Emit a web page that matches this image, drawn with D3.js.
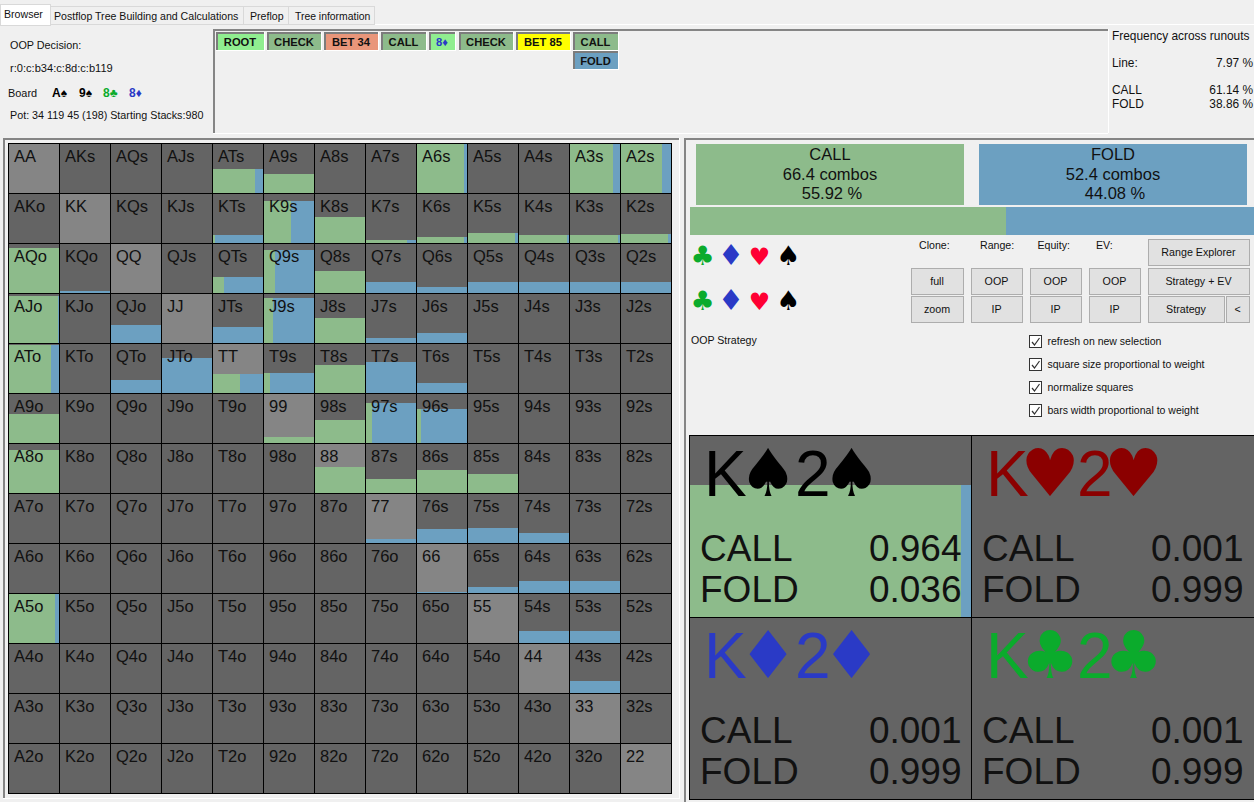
<!DOCTYPE html>
<html>
<head>
<meta charset="utf-8">
<title>OOP Strategy</title>
<script src="https://cdn.jsdelivr.net/npm/d3@7"></script>
<style>
  html, body { margin: 0; padding: 0; background: #f0f0f0; overflow: hidden; }
  svg { display: block; font-family: "Liberation Sans", Arial, sans-serif; }
  text { fill: #111; }
</style>
</head>
<body>
<svg id="chart" width="1254" height="802"></svg>
<script>
// hand grid: share of the cell filled by the bar, and CALL share of that bar
const ranks = ["A", "K", "Q", "J", "T", "9", "8", "7", "6", "5", "4", "3", "2"];
const weights = [
  [0, 0, 0, 0, .49, .39, 0, 0, 1, 0, 0, 1, 1],
  [0, 0, 0, 0, .165, .85, .52, .065, .125, .205, .165, .165, .185],
  [.9, .045, 0, 0, .33, .87, .45, .225, .125, .225, .225, .225, .225],
  [.95, 0, .365, 0, .325, .91, .505, .105, .205, 0, 0, 0, 0],
  [.97, 0, .265, .71, .385, .405, .565, .625, .205, 0, 0, 0, 0],
  [.585, 0, 0, 0, 0, .125, .465, .805, .685, 0, 0, 0, 0],
  [.87, 0, 0, 0, 0, 0, .53, .29, .47, .39, 0, 0, 0],
  [0, 0, 0, 0, 0, 0, 0, .09, .29, .31, .21, 0, 0],
  [0, 0, 0, 0, 0, 0, 0, 0, .03, .13, .25, .25, 0],
  [1, 0, 0, 0, 0, 0, 0, 0, 0, 0, .25, .25, 0],
  [0, 0, 0, 0, 0, 0, 0, 0, 0, 0, 0, .25, 0],
  [0, 0, 0, 0, 0, 0, 0, 0, 0, 0, 0, 0, 0],
  [0, 0, 0, 0, 0, 0, 0, 0, 0, 0, 0, 0, 0]
];
const callShare = [
  [0, 0, 0, 0, .85, 1, 0, 0, .95, 0, 0, .87, .83],
  [0, 0, 0, 0, .065, .54, 1, .83, .95, .95, .97, .97, .95],
  [1, 0, 0, 0, .24, .24, 1, 0, 0, 0, .02, .02, .02],
  [.98, 0, 0, 0, 0, .2, 1, 0, 0, 0, 0, 0, 0],
  [.85, 0, 0, 0, .54, .14, 1, 0, 0, 0, 0, 0, 0],
  [1, 0, 0, 0, 0, 1, 1, .14, .1, 0, 0, 0, 0],
  [1, 0, 0, 0, 0, 0, 1, 1, 1, 1, 0, 0, 0],
  [0, 0, 0, 0, 0, 0, 0, 0, 0, 0, 0, 0, 0],
  [0, 0, 0, 0, 0, 0, 0, 0, 0, 0, 0, 0, 0],
  [.93, 0, 0, 0, 0, 0, 0, 0, 0, 0, 0, 0, 0],
  [0, 0, 0, 0, 0, 0, 0, 0, 0, 0, 0, 0, 0],
  [0, 0, 0, 0, 0, 0, 0, 0, 0, 0, 0, 0, 0],
  [0, 0, 0, 0, 0, 0, 0, 0, 0, 0, 0, 0, 0]
];

// selected combo panel
const comboLabels = ["K♠2♠", "K♥2♥", "K♦2♦", "K♣2♣"];
const comboWeights = [.725, 0, 0, 0];
const comboCall = [.964, .001, .001, .001];
const comboFold = [.036, .999, .999, .999];

// overall action split
const actions = ["CALL", "FOLD"];
const actionCombos = [66.4, 52.4];
const actionPercent = [55.92, 44.08];

// decision line and texts
const nodeLabels = ["ROOT", "CHECK", "BET 34", "CALL", "8♦", "CHECK", "BET 85", "CALL", "FOLD"];
const tabLabels = ["Browser", "Postflop Tree Building and Calculations", "Preflop", "Tree information"];
const runoutActions = ["CALL", "FOLD"];
const runoutPercent = ["61.14 %", "38.86 %"];
const checkLabels = ["refresh on new selection", "square size proportional to weight", "normalize squares", "bars width proportional to weight"];
const suits = ["♣", "♦", "♥", "♠"];

// colours and layout
const green = "#8dbb8b";
const blue = "#6ca0c1";
const cellGrey = "#646464";
const pairGrey = "#858585";
const frameGrey = "#858585";
const suitColor = { "♠": "#000", "♥": "#8b0000", "♦": "#2a3ac6", "♣": "#0bab2c" };
const nodeFill = ["#90ee90", green, "#e9967a", green, "#90ee90", green, "#ffff00", green, blue];
const nodeBox = [[216, 32, 48], [267, 32, 54], [324, 32, 54], [381, 32, 45], [429, 32, 26], [459, 32, 54], [516, 32, 54], [573, 32, 45], [573, 51, 45]];

const svg = d3.select("#chart");

function label(x, y, str, size = 11, anchor = "start") {
  return svg.append("text").attr("x", x).attr("y", y)
    .attr("font-size", size + "px").attr("text-anchor", anchor).text(str);
}

function bar(x, y, w, h, color) {
  return svg.append("rect").attr("x", x).attr("y", y).attr("width", w).attr("height", h)
    .attr("fill", color).attr("shape-rendering", "crispEdges");
}

// window chrome
bar(0, 0, 1254, 802, "#f0f0f0");
bar(0, 24, 1254, 1, "#fff");

const tabX = [0, 50, 243, 288, 374];
const tabTextX = [4, 54, 250, 295];
tabLabels.forEach((t, i) => {
  svg.append("rect").attr("x", tabX[i] + .5).attr("y", i ? 6.5 : 4.5)
    .attr("width", tabX[i + 1] - tabX[i]).attr("height", i ? 18 : 21)
    .attr("fill", i ? "#f0f0f0" : "#fff").attr("stroke", "#d9d9d9")
    .attr("shape-rendering", "crispEdges");
  label(tabTextX[i], i ? 20 : 18, t, i === 3 ? 10.4 : 10.6);
});

// decision text
label(10, 49, "OOP Decision:", 10.8);
label(10, 72, "r:0:c:b34:c:8d:c:b119", 11.1);
label(8, 97, "Board", 10.9);
[["A♠", 52, "#000"], ["9♠", 79, "#000"], ["8♣", 103, suitColor["♣"]], ["8♦", 129, suitColor["♦"]]].forEach(c => {
  label(c[1], 97, c[0], 12).style("fill", c[2]).attr("font-weight", "bold");
});
label(10, 119, "Pot: 34 119 45 (198) Starting Stacks:980", 10.75);

// node panel
bar(213, 29, 2, 104, frameGrey);
bar(213, 29, 895, 2, frameGrey);
bar(1108, 29, 1, 104, "#fff");
bar(213, 133, 895, 1, "#fff");
svg.selectAll(".node").data(nodeLabels).enter().append("rect")
  .attr("class", "node")
  .attr("x", (_, i) => nodeBox[i][0]).attr("y", (_, i) => nodeBox[i][1])
  .attr("width", (_, i) => nodeBox[i][2]).attr("height", 18)
  .attr("fill", (_, i) => nodeFill[i])
  .attr("shape-rendering", "crispEdges");
nodeLabels.forEach((_, i) => {
  const [x, y, w] = nodeBox[i];
  bar(x, y, w, 2, "#7c7c7c");
  bar(x, y, 2, 18, "#7c7c7c");
  bar(x, y + 18, w + 1, 1, "#fff");
  bar(x + w, y, 1, 19, "#fff");
});
svg.selectAll(".nodeText").data(nodeLabels).enter().append("text")
  .attr("class", "nodeText")
  .attr("x", (_, i) => nodeBox[i][0] + nodeBox[i][2] / 2)
  .attr("y", (_, i) => nodeBox[i][1] + 13.5)
  .attr("text-anchor", "middle").attr("font-size", "11.2px").attr("font-weight", "bold")
  .style("fill", d => d === "8♦" ? suitColor["♦"] : "#111")
  .text(d => d);

// runout frequencies
label(1112, 40, "Frequency across runouts", 11.9);
label(1112, 67, "Line:", 11.9);
label(1253, 67, "7.97 %", 11.9, "end");
runoutActions.forEach((a, i) => {
  label(1112, 94 + i * 14, a, 11.9);
  label(1253, 94 + i * 14, runoutPercent[i], 11.9, "end");
});

// frames round the two lower panels
bar(3, 138, 676, 2, frameGrey);
bar(3, 138, 2, 660, frameGrey);
bar(679, 138, 1, 660, "#fff");
bar(3, 798, 677, 1, "#fff");
bar(684, 138, 570, 2, frameGrey);
bar(684, 138, 2, 664, frameGrey);

// hand grid
const gridX = d3.scaleBand().domain(ranks).range([8, 671]);
const gridY = d3.scaleBand().domain(ranks).range([143, 793]);
const barH = d3.scaleLinear().domain([0, 1]).range([0, gridY.bandwidth()]);
const barW = d3.scaleLinear().domain([0, 1]).range([0, gridX.bandwidth()]);

const cells = ranks.flatMap((r, i) => ranks.map((c, j) => ({
  row: r,
  col: c,
  pair: i === j,
  name: i === j ? r + c : i < j ? r + c + "s" : c + r + "o",
  weight: weights[i][j],
  call: callShare[i][j]
})));

const cellG = svg.append("g").attr("shape-rendering", "crispEdges");
cellG.selectAll(".cell").data(cells).enter().append("rect")
  .attr("class", "cell")
  .attr("x", d => gridX(d.col)).attr("y", d => gridY(d.row))
  .attr("width", gridX.bandwidth()).attr("height", gridY.bandwidth())
  .attr("fill", d => d.pair ? pairGrey : cellGrey);
cellG.selectAll(".fold").data(cells.filter(d => d.weight > 0)).enter().append("rect")
  .attr("class", "fold")
  .attr("x", d => gridX(d.col) + barW(d.call))
  .attr("y", d => gridY(d.row) + gridY.bandwidth() - barH(d.weight))
  .attr("width", d => barW(1 - d.call))
  .attr("height", d => barH(d.weight))
  .attr("fill", blue);
cellG.selectAll(".call").data(cells.filter(d => d.weight > 0)).enter().append("rect")
  .attr("class", "call")
  .attr("x", d => gridX(d.col))
  .attr("y", d => gridY(d.row) + gridY.bandwidth() - barH(d.weight))
  .attr("width", d => barW(d.call))
  .attr("height", d => barH(d.weight))
  .attr("fill", green);
cellG.selectAll(".border").data(cells).enter().append("rect")
  .attr("class", "border")
  .attr("x", d => gridX(d.col) + .5).attr("y", d => gridY(d.row) + .5)
  .attr("width", gridX.bandwidth()).attr("height", gridY.bandwidth())
  .attr("fill", "none").attr("stroke", "#000");
svg.selectAll(".cellText").data(cells).enter().append("text")
  .attr("class", "cellText")
  .attr("x", d => gridX(d.col) + 6).attr("y", d => gridY(d.row) + 18.5)
  .attr("font-size", "16.5px")
  .text(d => d.name);

// action boxes
const actionX = d3.scaleBand().domain(actions).range([696, 1247]).paddingInner(.053);
actions.forEach((a, i) => {
  bar(actionX(a), 144, actionX.bandwidth(), 61, i ? blue : green);
  const cx = actionX(a) + actionX.bandwidth() / 2;
  label(cx, 160, a, 16.5, "middle");
  label(cx, 180, actionCombos[i] + " combos", 16.5, "middle");
  label(cx + 2, 199, actionPercent[i].toFixed(2) + " %", 16.5, "middle");
});

// split bar
const splitX = d3.scaleLinear().domain([0, 100]).range([689.5, 1256]);
svg.selectAll(".split").data(actionPercent).enter().append("rect")
  .attr("class", "split")
  .attr("x", (d, i) => splitX(d3.sum(actionPercent.slice(0, i))))
  .attr("y", 207)
  .attr("width", d => splitX(d) - splitX(0))
  .attr("height", 28)
  .attr("fill", (_, i) => i ? blue : green)
  .attr("shape-rendering", "crispEdges");

// suit pickers
const suitRowColor = { "♣": "#0bab2c", "♦": "#2a3ac6", "♥": "#ff0033", "♠": "#000" };
const suitRowSize = { "♣": 27, "♦": 29, "♥": 24, "♠": 27 };
[265, 310].forEach(y => {
  suits.forEach((s, i) => {
    label(702.5 + i * 28.5, y, s, suitRowSize[s], "middle").style("fill", suitRowColor[s])
      .style("font-family", "'DejaVu Sans'");
  });
});

// controls
[["Clone:", 919], ["Range:", 980], ["Equity:", 1037.5], ["EV:", 1096]].forEach(c => label(c[1], 249, c[0], 10.6));
label(691, 344, "OOP Strategy", 10.6);

const buttons = [
  ["full", 911, 268, 52, 26], ["zoom", 911, 296, 52, 26],
  ["OOP", 971, 268, 51, 26], ["IP", 971, 296, 51, 26],
  ["OOP", 1030, 268, 51, 26], ["IP", 1030, 296, 51, 26],
  ["OOP", 1089, 268, 51, 26], ["IP", 1089, 296, 51, 26],
  ["Range Explorer", 1148, 239, 101, 26], ["Strategy + EV", 1148, 268, 101, 26],
  ["Strategy", 1148, 296, 76, 26], ["<", 1226, 296, 23, 26]
];
buttons.forEach(b => {
  svg.append("rect").attr("x", b[1] + .5).attr("y", b[2] + .5).attr("width", b[3]).attr("height", b[4])
    .attr("fill", "#e1e1e1").attr("stroke", "#adadad").attr("shape-rendering", "crispEdges");
  label(b[1] + b[3] / 2, b[2] + 17, b[0], 10.7, "middle");
});

checkLabels.forEach((t, i) => {
  const y = 335 + i * 23;
  svg.append("rect").attr("x", 1029.5).attr("y", y + .5).attr("width", 12).attr("height", 12)
    .attr("fill", "#fff").attr("stroke", "#333").attr("shape-rendering", "crispEdges");
  svg.append("path").attr("d", `M1032 ${y + 7}l2.5 3l5-7`).attr("fill", "none").attr("stroke", "#333").attr("stroke-width", 1.2);
  label(1047.5, y + 10, t, 10.5);
});

// combo panel
const comboX = d3.scaleBand().domain([0, 1]).range([689, 1253]);
const comboY = d3.scaleBand().domain([0, 1]).range([435, 799]);
const comboH = d3.scaleLinear().domain([0, 1]).range([0, comboY.bandwidth()]);
const comboW = d3.scaleLinear().domain([0, 1]).range([0, comboX.bandwidth()]);
// panel order on screen: spades, hearts / diamonds, clubs
comboLabels.forEach((name, i) => {
  const x = comboX(i % 2), y = comboY(i < 2 ? 0 : 1);
  const g = svg.append("g").attr("shape-rendering", "crispEdges");
  g.append("rect").attr("x", x).attr("y", y).attr("width", comboX.bandwidth() + 1).attr("height", comboY.bandwidth())
    .attr("fill", cellGrey);
  if (comboWeights[i] > 0) {
    const h = comboH(comboWeights[i]);
    g.append("rect").attr("x", x).attr("y", y + comboY.bandwidth() - h).attr("width", comboW(1)).attr("height", h).attr("fill", blue);
    g.append("rect").attr("x", x).attr("y", y + comboY.bandwidth() - h).attr("width", comboW(comboCall[i])).attr("height", h).attr("fill", green);
  }
  g.append("rect").attr("x", x + .5).attr("y", y + .5).attr("width", comboX.bandwidth()).attr("height", comboY.bandwidth())
    .attr("fill", "none").attr("stroke", "#000");
  // rank in the panel font, suit in the wider DejaVu glyph
  const color = suitColor[name[1]];
  const big = svg.append("text").attr("y", y + 61).attr("font-size", "64px").style("fill", color);
  big.append("tspan").attr("x", x + 15).text(name[0]);
  big.append("tspan").attr("x", x + 79).attr("text-anchor", "middle").style("font-family", "'DejaVu Sans'").style("fill", color).attr("font-size", "66px").text(name[1]);
  big.append("tspan").attr("x", x + 106).text(name[2]);
  big.append("tspan").attr("x", x + 162.5).attr("text-anchor", "middle").style("font-family", "'DejaVu Sans'").style("fill", color).attr("font-size", "66px").text(name[3]);
  label(x + 11, y + 126, actions[0], 37);
  label(x + 272.5, y + 126, comboCall[i].toFixed(3), 37, "end");
  label(x + 11, y + 167, actions[1], 37);
  label(x + 272.5, y + 167, comboFold[i].toFixed(3), 37, "end");
});
// the panel runs off the window on the right, so no closing border there
bar(1253, 436, 1, 363, cellGrey);
bar(1253, 617, 1, 1, "#000");
</script>
</body>
</html>
